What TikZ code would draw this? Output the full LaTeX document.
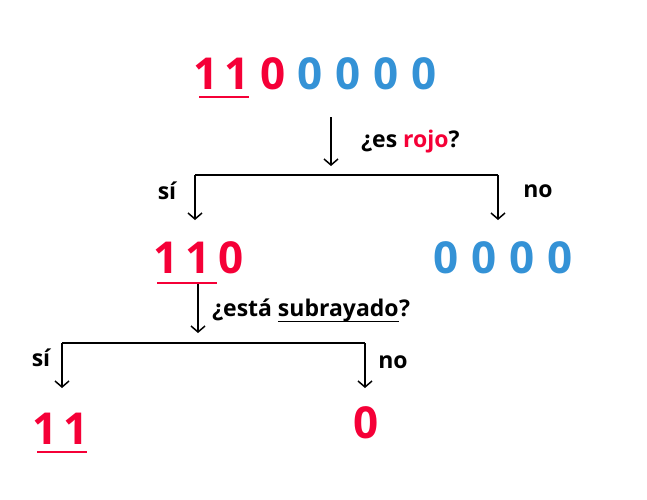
\documentclass[tikz,border=0pt]{standalone}
\usepackage{fontspec}
\setmainfont{Open Sans}
\usetikzlibrary{arrows.meta,positioning}
\definecolor{bitred}{RGB}{245,0,55}
\definecolor{bitblue}{RGB}{52,146,214}

\begin{document}
\begin{tikzpicture}[x=1pt, y=-1pt,
  bit/.style={inner sep=0pt, font=\fontsize{44}{44}\selectfont\bfseries},
  lbl/.style={inner sep=0pt, font=\fontsize{23}{27}\selectfont\bfseries},
  br/.style={line width=1.5pt},
  ar/.style={br, -{Straight Barb[length=6pt,width=14pt]}},
  ul/.style={line width=2.5pt, bitred}
]
\useasboundingbox (0,0) rectangle (647,499);

% fila de arriba
\foreach \n/\x/\c/\d in {a/206/bitred/1, b/237/bitred/1, c/273/bitred/0,
  d/310/bitblue/0, e/348/bitblue/0, f/386/bitblue/0, g/424/bitblue/0}
  \node[bit, text=\c] (top\n) at (\x,73.5) {\d};
\draw[ul] (199,97) -- (249,97);

% primera pregunta
\coordinate (qa) at (331,117);
\coordinate (qb) at (331,166);
\draw[ar] (qa) -- (qb);
\node[lbl, anchor=west] (rojo) at (361,142) {¿es \textcolor{bitred}{rojo}?};

\coordinate (la) at (195,175);
\coordinate (ra) at (498,175);
\coordinate (lb) at (195,220);
\coordinate (rb) at (498,220);
\draw[br] (la) -- (ra);
\draw[ar] (la) -- (lb);
\draw[ar] (ra) -- (rb);
\node[lbl] (sia) at (167,191) {sí};
\node[lbl] (noa) at (538,191) {no};

% segunda fila
\foreach \n/\x in {a/166, b/198}
  \node[bit, text=bitred] (mid\n) at (\x,258) {1};
\node[bit, text=bitred] (midc) at (231,258) {0};
\foreach \n/\x in {a/446, b/484, c/522, d/560}
  \node[bit, text=bitblue] (blu\n) at (\x,258) {0};
\draw[ul] (157,283) -- (217,283);

% segunda pregunta
\coordinate (qc) at (198,284);
\coordinate (qd) at (198,333);
\draw[ar] (qc) -- (qd);
\node[lbl, anchor=west] (esta) at (212,310) {¿está};
\node[lbl, anchor=base west] (subr) at ([xshift=5.5pt]esta.base east) {subrayado};
\node[lbl, anchor=base west] (qm) at (subr.base east) {?};
\draw[line width=1.3pt] ([yshift=-5pt]subr.base west) -- ([yshift=-5pt]subr.base east);

\coordinate (lc) at (62,343);
\coordinate (rc) at (365,343);
\coordinate (ld) at (62,388);
\coordinate (rd) at (365,388);
\draw[br] (lc) -- (rc);
\draw[ar] (lc) -- (ld);
\draw[ar] (rc) -- (rd);
\node[lbl] (sib) at (41,358) {sí};
\node[lbl] (nob) at (393,362) {no};

% fila de abajo
\foreach \n/\x in {a/45, b/76}
  \node[bit, text=bitred] (bot\n) at (\x,429) {1};
\node[bit, text=bitred] (botc) at (366,423) {0};
\draw[ul] (37,452) -- (87,452);
\end{tikzpicture}
\end{document}
